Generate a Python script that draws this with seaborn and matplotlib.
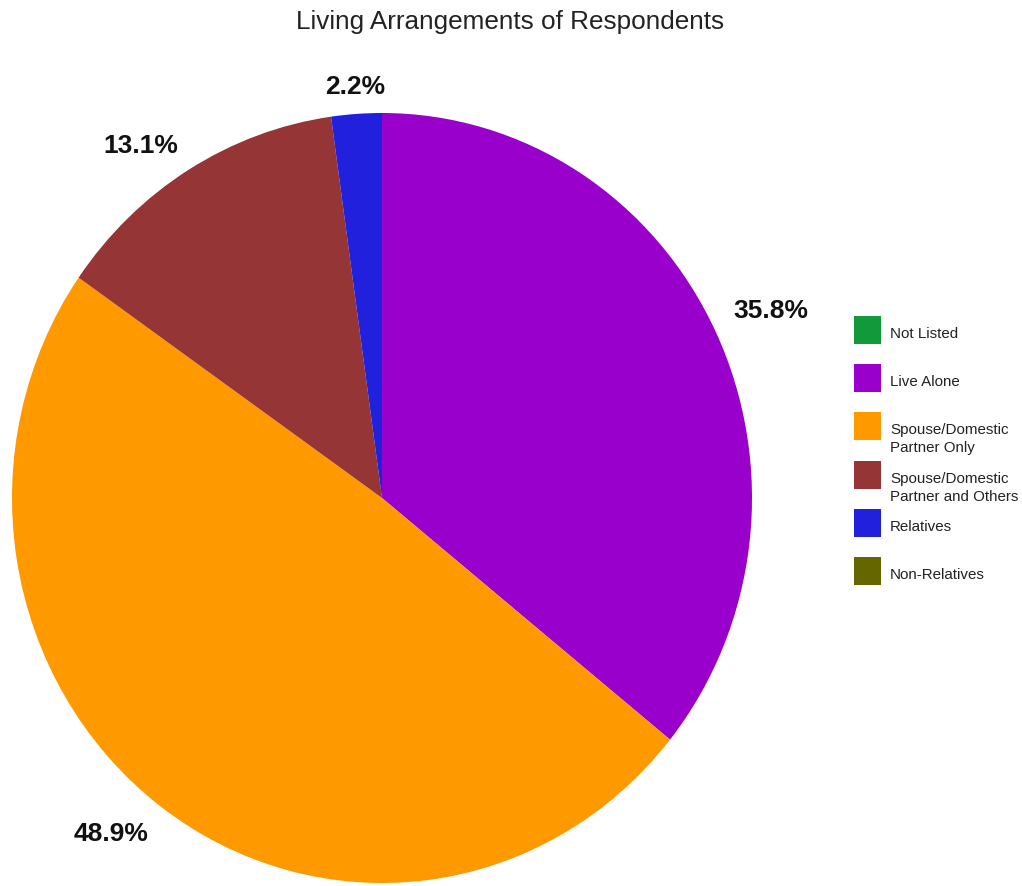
import numpy as np
import matplotlib.pyplot as plt
import seaborn as sns
from matplotlib.patches import Rectangle

# Data
categories = ["Not Listed", "Live Alone", "Spouse/Domestic\nPartner Only",
              "Spouse/Domestic\nPartner and Others", "Relatives", "Non-Relatives"]
shares = [0.0, 35.8, 48.9, 13.1, 2.2, 0.0]
hex_colors = ["#109a3a", "#9900cc", "#ff9900", "#953535", "#2020dd", "#666600"]

sns.set_theme(style="white")
plt.rcParams['font.family'] = ['Liberation Sans', 'DejaVu Sans']
palette = sns.color_palette(hex_colors)

W, H = 1022, 886
fig = plt.figure(figsize=(W / 100, H / 100), dpi=100)

# pie geometry in pixels (slightly taller than wide, like the original)
cx, cy, rx, ry = 382, 498, 370, 385
lim = 1.2
ax = fig.add_axes([(cx - rx * lim) / W, (H - cy - ry * lim) / H,
                   2 * rx * lim / W, 2 * ry * lim / H])

wedges, _ = ax.pie(shares, colors=palette, startangle=90, counterclock=False,
                   wedgeprops=dict(linewidth=0))
ax.set_xlim(-lim, lim)
ax.set_ylim(-lim, lim)
ax.set_aspect('auto')
ax.axis('off')

# percentage labels: nearest corner of the label sits just outside the rim
lab_size = 19
digit_h = 0.716 * lab_size
total = sum(shares)
for w, val in zip(wedges, shares):
    if val <= 0:
        continue
    mid = np.deg2rad((w.theta1 + w.theta2) / 2)
    x, y = 1.052 * np.cos(mid), 1.052 * np.sin(mid)
    if abs(np.cos(mid)) < 0.2:
        ha = 'center'
    else:
        ha = 'left' if x > 0 else 'right'
    va = 'bottom' if 0 < np.sin(mid) < 0.5 else 'baseline'
    dy = 0 if y > 0 else -digit_h
    ax.annotate(f"{val / total * 100:.1f}%", xy=(x, y), xytext=(0, dy),
                textcoords='offset points', ha=ha, va=va,
                fontsize=lab_size, fontweight='bold', color='#111111')

fig.text(0.499, 1 - 22 / H, "Living Arrangements of Respondents", ha='center', va='center',
         fontsize=18.8, color='#222222')

# legend on the right
top0, step = 316, 48.2
for i, (lab, col) in enumerate(zip(categories, palette)):
    top = top0 + i * step
    fig.patches.append(Rectangle((854 / W, (H - top - 28) / H), 27 / W, 28 / H,
                                 transform=fig.transFigure, facecolor=col,
                                 edgecolor='none'))
    fig.text(890 / W, (H - top - 11) / H, lab, ha='left', va='top',
             fontsize=10.9, color='#222222', linespacing=1.37)

fig.savefig("out.png", dpi=100)
